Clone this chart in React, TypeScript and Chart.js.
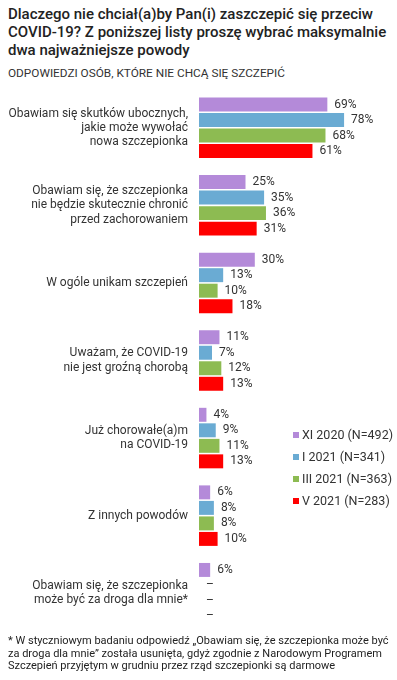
import React, { useEffect, useRef } from "react";
import { Chart, registerables } from "chart.js";

Chart.register(...registerables);

const categories: string[][] = [
  ["Obawiam się skutków ubocznych,", "jakie może wywołać", "nowa szczepionka"],
  ["Obawiam się, że szczepionka", "nie będzie skutecznie chronić", "przed zachorowaniem"],
  ["W ogóle unikam szczepień"],
  ["Uważam, że COVID-19", "nie jest groźną chorobą"],
  ["Już chorowałe(a)m", "na COVID-19"],
  ["Z innych powodów"],
  ["Obawiam się, że szczepionka", "może być za droga dla mnie*"],
];

const seriesLabels = ["XI 2020 (N=492)", "I 2021 (N=341)", "III 2021 (N=363)", "V 2021 (N=283)"];
const seriesColors = ["#b48ad9", "#6aabd3", "#8dbb52", "#ff0000"];

const xi2020: (number | null)[] = [69, 25, 30, 11, 4, 6, 6];
const i2021: (number | null)[] = [78, 35, 13, 7, 9, 8, null];
const iii2021: (number | null)[] = [68, 36, 10, 12, 11, 8, null];
const v2021: (number | null)[] = [61, 31, 18, 13, 13, 10, null];

const seriesValues = [xi2020, i2021, iii2021, v2021];

const titleLines = [
  "Dlaczego nie chciał(a)by Pan(i) zaszczepić się przeciw",
  "COVID-19? Z poniższej listy proszę wybrać maksymalnie",
  "dwa najważniejsze powody",
];
const subtitle = "ODPOWIEDZI OSÓB, KTÓRE NIE CHCĄ SIĘ SZCZEPIĆ";
const footnoteLines = [
  "* W styczniowym badaniu odpowiedź „Obawiam się, że szczepionka może być",
  "za droga dla mnie” została usunięta, gdyż zgodnie z Narodowym Programem",
  "Szczepień przyjętym w grudniu przez rząd szczepionki są darmowe",
];

const FONT = "Roboto, 'Noto Sans', sans-serif";

const valueLabels = {
  id: "valueLabels",
  afterDatasetsDraw(chart: any) {
    const ctx = chart.ctx;
    const xScale = chart.scales.x;
    const yScale = chart.scales.y;
    const x0 = xScale.getPixelForValue(0);
    ctx.save();
    ctx.font = `12px ${FONT}`;
    ctx.fillStyle = "#333333";
    ctx.textAlign = "left";
    ctx.textBaseline = "middle";
    chart.data.datasets.forEach((ds: any, i: number) => {
      const meta = chart.getDatasetMeta(i);
      meta.data.forEach((bar: any, j: number) => {
        const v = ds.data[j];
        let y = bar.y;
        if (!isFinite(y)) {
          y = yScale.getPixelForValue(j);
        }
        if (v == null) {
          ctx.fillText("–", x0 + 7, y);
        } else {
          ctx.fillText(v + "%", bar.x + 7, y);
        }
      });
    });
    ctx.restore();
  },
};

export default function App() {
  const canvasRef = useRef<HTMLCanvasElement | null>(null);

  useEffect(() => {
    if (!canvasRef.current) return;
    const chart = new Chart(canvasRef.current, {
      type: "bar",
      data: {
        labels: categories,
        datasets: seriesLabels.map((label, i) => ({
          label,
          data: seriesValues[i],
          backgroundColor: seriesColors[i],
          borderWidth: 0,
          categoryPercentage: 0.8,
          barPercentage: 0.9,
        })),
      },
      options: {
        indexAxis: "y",
        responsive: true,
        maintainAspectRatio: false,
        animation: false,
        layout: { padding: { left: 0, right: 12, top: 9, bottom: 8 } },
        plugins: {
          legend: { display: false },
          tooltip: { enabled: false },
          title: { display: false },
        },
        scales: {
          x: {
            display: false,
            min: 0,
            max: 100,
          },
          y: {
            afterFit(scale: any) {
              scale.width = 199;
              scale.paddingTop = 0;
              scale.paddingBottom = 0;
            },
            grid: { display: false, drawTicks: false },
            border: { display: false },
            ticks: {
              padding: 11,
              color: "#333333",
              font: { family: FONT, size: 12, lineHeight: 1.18 },
            },
          },
        },
      },
      plugins: [valueLabels],
    } as any);
    return () => chart.destroy();
  }, []);

  return (
    <div style={{ position: "absolute", left: 0, top: 0, width: 397, height: 680, fontFamily: FONT, background: "#fff" }}>
      <div style={{ position: "absolute", left: 8, top: 5, fontSize: 15, fontWeight: 500, lineHeight: "18px", color: "#222", whiteSpace: "nowrap" }}>
        {titleLines.map((l, i) => (
          <div key={i}>{l}</div>
        ))}
      </div>
      <div style={{ position: "absolute", left: 8, top: 66, fontSize: 11.8, lineHeight: "14px", color: "#333", whiteSpace: "nowrap" }}>
        {subtitle}
      </div>
      <div style={{ position: "absolute", left: 0, top: 80, width: 397, height: 560 }}>
        <canvas ref={canvasRef} />
      </div>
      <div style={{ position: "absolute", left: 293, top: 427, fontSize: 12.5, color: "#333" }}>
        {seriesLabels.map((l, i) => (
          <div key={i} style={{ height: 22, lineHeight: "16px", whiteSpace: "nowrap" }}>
            <span style={{ display: "inline-block", width: 6, height: 6, background: seriesColors[i], marginRight: 3, verticalAlign: "1px" }} />
            {l}
          </div>
        ))}
      </div>
      <div style={{ position: "absolute", left: 8, top: 635, fontSize: 11, lineHeight: "12.5px", color: "#222", whiteSpace: "nowrap" }}>
        {footnoteLines.map((l, i) => (
          <div key={i}>{l}</div>
        ))}
      </div>
    </div>
  );
}
